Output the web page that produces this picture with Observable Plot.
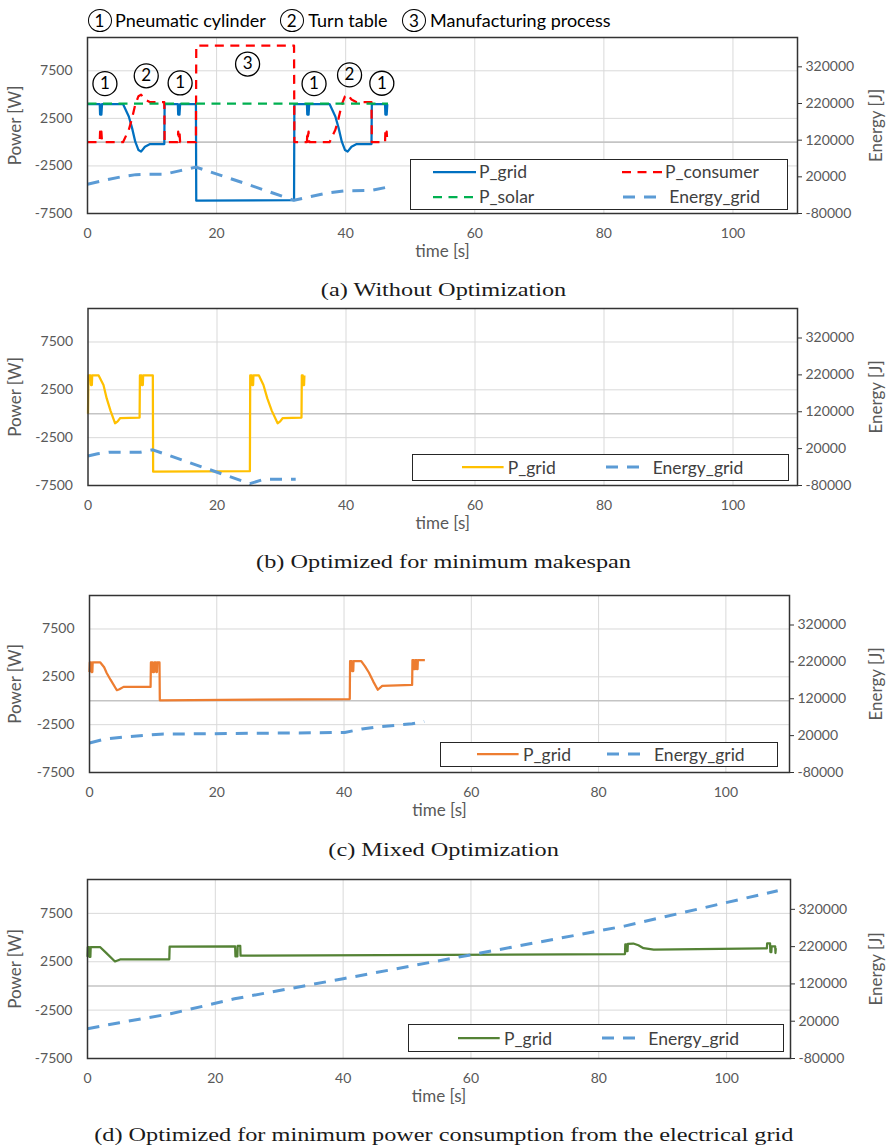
<!DOCTYPE html>
<html><head><meta charset="utf-8">
<script src="https://cdn.jsdelivr.net/npm/d3@7"></script>
<script src="https://cdn.jsdelivr.net/npm/@observablehq/plot@0.6"></script>
<style>
body{margin:0;background:#fff;}
#page{position:relative;width:887px;height:1147px;overflow:hidden;font-family:Lato,sans-serif;background:#fff;}
.pl{position:absolute;left:0;}
.cap{position:absolute;left:0;width:887px;height:26px;line-height:26px;text-align:center;font-family:"Liberation Serif",serif;font-size:19.5px;color:#1a1a1a;white-space:nowrap;}
.cap span{display:inline-block;transform:scaleX(1.245);transform-origin:center;}
.legbox{position:absolute;border:1.5px solid #262626;background:#fff;box-sizing:border-box;}
.legtext{position:absolute;height:24px;display:flex;align-items:center;font-size:17.5px;color:#404040;white-space:nowrap;}
.samp{position:absolute;overflow:visible;}
.circ{position:absolute;width:24px;height:23px;border:1.4px solid #000;border-radius:50%;box-sizing:border-box;display:flex;align-items:center;justify-content:center;font-size:17px;color:#000;}
.htext{position:absolute;height:24px;display:flex;align-items:center;font-size:18px;color:#000;white-space:nowrap;}
</style></head><body><div id="page"></div>
<script>
// ---------- data ----------
const xTicks = [0, 20, 40, 60, 80, 100];
const powerTicks = [-7500, -2500, 2500, 7500];
const energyTicks = [-80000, 20000, 120000, 220000, 320000];
const powerDomain = [-7500, 11000];
const energyDomain = [-80000, 400000];

// (a) Without Optimization
const aGridT = [0, 1.9, 1.95, 2.05, 2.15, 2.25, 5.5, 6.4, 6.9, 7.4, 7.9, 8.3, 8.9, 9.7, 11.9, 11.95, 14.0, 14.05, 14.15, 14.25, 14.35, 16.8, 16.85, 32.0, 32.05, 34.0, 34.05, 34.15, 34.25, 34.35, 37.5, 38.4, 38.9, 39.4, 39.9, 40.3, 40.9, 41.7, 44.0, 44.05, 46.1, 46.15, 46.25, 46.35, 46.45, 46.55];
const aGridP = [4000, 4000, 2900, 3400, 2900, 4000, 4000, 2700, 1500, 50, -830, -1000, -480, -200, -200, 4000, 4000, 2900, 3400, 2900, 4000, 4000, -6150, -6100, 4000, 4000, 2900, 3400, 2900, 4000, 4000, 2700, 1500, 50, -830, -1000, -480, -200, -200, 4000, 4000, 2900, 3400, 2900, 4000, 4000];
const aConsT = [0, 1.9, 1.95, 2.05, 2.15, 2.25, 5.5, 6.4, 6.9, 7.4, 7.9, 8.3, 8.9, 9.7, 11.9, 11.95, 14.0, 14.05, 14.15, 14.25, 14.35, 16.8, 16.85, 32.0, 32.05, 34.0, 34.05, 34.15, 34.25, 34.35, 37.5, 38.4, 38.9, 39.4, 39.9, 40.3, 40.9, 41.7, 44.0, 44.05, 46.1, 46.15, 46.25, 46.35, 46.45, 46.55];
const aConsP = [0, 0, 1100, 600, 1100, 0, 0, 1300, 2500, 3950, 4830, 5000, 4480, 4200, 4200, 0, 0, 1100, 600, 1100, 0, 0, 10150, 10150, 0, 0, 1100, 600, 1100, 0, 0, 1300, 2500, 3950, 4830, 5000, 4480, 4200, 4200, 0, 0, 1100, 600, 1100, 0, 0];
const aSolarT = [0, 46.55];
const aSolarP = [4050, 4050];
const aEnergyT = [0, 2.75, 5.5, 7.5, 9, 11.9, 14.4, 16.8, 24.4, 32.0, 34.8, 37.5, 40, 44, 46.5];
const aEnergyJ = [0, 11000, 21000, 26000, 27000, 27000, 37000, 46500, 2000, -44000, -33000, -23000, -18000, -17000, -8000];
const annT = [2.7, 9.1, 14.35, 24.8, 35.1, 40.6, 45.6];
const annP = [6150, 6970, 6220, 8210, 6150, 7070, 6190];
const annLabel = ["1", "2", "1", "3", "1", "2", "1"];

// (b) Optimized for minimum makespan
const bGridT = [0, 0.05, 0.1, 0.4, 0.45, 0.55, 0.6, 0.65, 1.65, 2.4, 2.9, 3.5, 4.2, 4.6, 5.0, 8.0, 8.05, 8.3, 8.35, 8.45, 8.5, 8.55, 10.05, 10.1, 25.1, 25.15, 25.4, 25.45, 25.55, 25.6, 25.65, 26.5, 27.2, 27.8, 28.5, 29.4, 29.8, 30.2, 33.1, 33.15, 33.3, 33.35, 33.45, 33.5, 33.55];
const bGridP = [0, 3000, 4000, 4000, 3000, 3500, 3000, 4000, 4000, 3000, 1600, 300, -1000, -800, -450, -400, 4000, 4000, 3000, 3500, 3000, 4000, 4000, -6050, -6000, 4000, 4000, 3000, 3500, 3000, 4000, 4000, 3000, 1600, 300, -1000, -800, -450, -400, 4000, 4000, 3000, 3500, 3000, 4000];
const bEnergyT = [0, 1.5, 3.3, 8.1, 10.05, 25.1, 27.3, 32.2];
const bEnergyJ = [0, 6000, 10300, 10000, 16700, -75000, -63000, -63000];

// (c) Mixed Optimization
const cGridT = [0, 0.05, 0.25, 0.3, 0.45, 0.5, 1.7, 2.3, 2.7, 3.3, 4.3, 4.7, 5.35, 9.6, 9.65, 9.9, 9.95, 10.15, 10.2, 10.45, 10.5, 10.6, 10.65, 11.0, 11.05, 40.9, 40.95, 41.2, 41.25, 41.45, 41.5, 42.7, 43.3, 43.9, 44.6, 45.3, 46.0, 50.7, 50.75, 50.95, 51.0, 51.15, 51.2, 51.4, 51.45, 51.55, 51.6, 52.7];
const cGridP = [3000, 4000, 4000, 3000, 3000, 4000, 4000, 3500, 2900, 2200, 1100, 1200, 1450, 1450, 4000, 4000, 3000, 3000, 4000, 4000, 3000, 3000, 4000, 4000, 50, 180, 4150, 4150, 3100, 3100, 4150, 4150, 3600, 2950, 2000, 1150, 1550, 1650, 4250, 4250, 3300, 3300, 4250, 4250, 3300, 3300, 4250, 4250];
const cEnergyT = [0, 2.4, 5.5, 11.1, 40.1, 42.8, 45.3, 50.7, 52.6];
const cEnergyJ = [0, 10500, 16500, 24000, 28500, 38000, 43900, 52000, 58300];

// (d) Optimized for minimum power consumption from the electrical grid
const dGridT = [0, 0.05, 0.25, 0.3, 0.45, 0.5, 2.0, 3.0, 4.3, 5.1, 12.8, 12.85, 23.1, 23.15, 23.45, 23.5, 23.9, 23.95, 84.1, 84.15, 84.3, 84.35, 84.5, 84.55, 85.4, 86.2, 87.0, 88.6, 106.3, 106.35, 106.8, 106.85, 107.0, 107.05, 107.6, 107.65, 107.7];
const dGridP = [3000, 4000, 4000, 3000, 3000, 4000, 4000, 3360, 2530, 2740, 2750, 4050, 4100, 3050, 3050, 4150, 4150, 3120, 3300, 4300, 4300, 3600, 3600, 4350, 4380, 4200, 3900, 3750, 3880, 4400, 4400, 3500, 3500, 4100, 4100, 3400, 3900];
const dEnergyT = [0, 5, 13, 23, 40, 60, 84, 108];
const dEnergyJ = [0, 16000, 40000, 80000, 134000, 198000, 275000, 370000];

const captions = ["(a) Without Optimization", "(b) Optimized for minimum makespan", "(c) Mixed Optimization", "(d) Optimized for minimum power consumption from the electrical grid"];

// ---------- helpers ----------
const rows = (t, v) => d3.zip(t, v).map(([t, v]) => ({t, v}));
const eToP = d3.scaleLinear().domain(energyDomain).range(powerDomain);
const page = document.getElementById("page");

const C = {
  blue: "#0070C0", red: "#FF0000", green: "#00B050", energy: "#5B9BD5",
  yellow: "#FFC000", orange: "#ED7D31", dgreen: "#548235"
};
const dashShort = "9,6.5", dashLong = "12,9";

function panel(cfg) {
  const mt = cfg.marginTop;
  const mb = 56;
  const boxH = cfg.boxBottom - cfg.boxTop;
  const marks = [
    Plot.gridX(xTicks.slice(1), {stroke: "#d9d9d9", strokeOpacity: 1, strokeWidth: 1}),
    Plot.gridY([7500, 2500, -2500], {stroke: "#d9d9d9", strokeOpacity: 1, strokeWidth: 1}),
    Plot.ruleY([0], {stroke: "#c4c4c4", strokeWidth: 1.6}),
  ];
  for (const s of cfg.series) {
    const data = rows(s.t, s.v);
    marks.push(Plot.line(data, {
      x: "t", y: s.energy ? (d => eToP(d.v)) : "v",
      stroke: s.color, strokeWidth: s.width, strokeDasharray: s.dash || null,
      strokeLinejoin: "round", strokeLinecap: "butt"
    }));
  }
  if (cfg.ann) {
    marks.push(Plot.dot(cfg.ann, {x: "t", y: "p", r: 12, stroke: "#000", strokeWidth: 1.3, fill: "none"}));
    marks.push(Plot.text(cfg.ann, {x: "t", y: "p", text: "label", fontSize: 17, fill: "#000", lineAnchor: "middle"}));
  }
  marks.push(
    Plot.frame({stroke: "#333", strokeWidth: 1.5}),
    Plot.axisX({ticks: xTicks, tickSize: 0, tickPadding: 15, fontSize: 14, fill: "#595959", label: null, tickFormat: d => String(d)}),
    Plot.axisY({anchor: "left", ticks: powerTicks, tickSize: 0, tickPadding: 15, fontSize: 14, fill: "#595959", label: null, tickFormat: d => String(d)}),
    Plot.axisY({anchor: "right", ticks: energyTicks.map(eToP), tickSize: 4, tickPadding: 4, fontSize: 14, fill: "#595959", stroke: "#333", label: null,
      tickFormat: v => String(Math.round(eToP.invert(v) / 1000) * 1000)}),
    Plot.text(["Power [W]"], {text: d => d, frameAnchor: "left", dx: 15 - cfg.left, rotate: -90, textAnchor: "middle", fontSize: 17, fill: "#595959"}),
    Plot.text(["Energy [J]"], {text: d => d, frameAnchor: "right", dx: 876 - cfg.right, rotate: -90, textAnchor: "middle", fontSize: 17, fill: "#595959"}),
    Plot.text(["time [s]"], {text: d => d, frameAnchor: "bottom", dy: 38, textAnchor: "middle", lineAnchor: "middle", fontSize: 17, fill: "#595959"})
  );
  const chart = Plot.plot({
    width: 887,
    height: mt + boxH + mb,
    marginTop: mt, marginBottom: mb, marginLeft: cfg.left, marginRight: 887 - cfg.right,
    x: {domain: [0, 110]},
    y: {domain: powerDomain},
    style: {fontFamily: "Lato", background: "transparent", overflow: "visible"},
    marks
  });
  const wrap = document.createElement("div");
  wrap.className = "pl";
  wrap.style.top = (cfg.boxTop - mt) + "px";
  wrap.appendChild(chart);
  page.appendChild(wrap);

  // legend
  const lb = cfg.legend;
  const box = document.createElement("div");
  box.className = "legbox";
  Object.assign(box.style, {left: lb.x1 + "px", top: lb.y1 + "px", width: (lb.x2 - lb.x1) + "px", height: (lb.y2 - lb.y1) + "px"});
  page.appendChild(box);
  for (const it of lb.items) {
    const w = it.x2 - it.x1;
    const svg = d3.create("svg").attr("class", "samp").attr("width", w).attr("height", 8)
      .style("left", it.x1 + "px").style("top", (it.cy - 4) + "px");
    svg.append("line").attr("x1", 0).attr("x2", w).attr("y1", 4).attr("y2", 4)
      .attr("stroke", it.color).attr("stroke-width", it.width).attr("stroke-dasharray", it.dash || null);
    page.appendChild(svg.node());
    const tx = document.createElement("div");
    tx.className = "legtext";
    tx.textContent = it.label;
    tx.style.left = it.tx + "px";
    tx.style.top = (it.cy - 12) + "px";
    page.appendChild(tx);
  }
  // caption
  const cap = document.createElement("div");
  cap.className = "cap";
  cap.style.top = (cfg.capY - 13) + "px";
  const sp = document.createElement("span");
  sp.textContent = cfg.caption;
  cap.appendChild(sp);
  page.appendChild(cap);
}

// ---------- panels ----------
panel({
  boxTop: 37, boxBottom: 213, left: 87, right: 797, marginTop: 37, capY: 290, caption: captions[0],
  series: [
    {t: aGridT, v: aGridP, color: C.blue, width: 2.25},
    {t: aConsT, v: aConsP, color: C.red, width: 2.25, dash: dashShort},
    {t: aSolarT, v: aSolarP, color: C.green, width: 2.25, dash: dashShort},
    {t: aEnergyT, v: aEnergyJ, color: C.energy, width: 3, dash: dashLong, energy: true}
  ],
  ann: d3.zip(annT, annP, annLabel).map(([t, p, label]) => ({t, p, label})),
  legend: {x1: 410, x2: 788, y1: 159, y2: 209.5, items: [
    {x1: 433, x2: 476, tx: 479, cy: 171.7, color: C.blue, width: 2.25, label: "P_grid"},
    {x1: 621.7, x2: 663.3, tx: 665, cy: 171.7, color: C.red, width: 2.25, dash: dashShort, label: "P_consumer"},
    {x1: 433, x2: 476, tx: 479, cy: 196.7, color: C.green, width: 2.25, dash: dashShort, label: "P_solar"},
    {x1: 622.7, x2: 656.7, tx: 669.3, cy: 196.7, color: C.energy, width: 3, dash: dashLong, label: "Energy_grid"}
  ]}
});
panel({
  boxTop: 308, boxBottom: 485, left: 87.5, right: 797, marginTop: 10, capY: 562, caption: captions[1],
  series: [
    {t: bGridT, v: bGridP, color: C.yellow, width: 2.25},
    {t: bEnergyT, v: bEnergyJ, color: C.energy, width: 3, dash: dashLong, energy: true}
  ],
  legend: {x1: 411.7, x2: 789.3, y1: 454, y2: 481, items: [
    {x1: 461.7, x2: 503.3, tx: 507.7, cy: 467.3, color: C.yellow, width: 2.25, label: "P_grid"},
    {x1: 606, x2: 640, tx: 652.7, cy: 467.3, color: C.energy, width: 3, dash: dashLong, label: "Energy_grid"}
  ]}
});
panel({
  boxTop: 595, boxBottom: 772, left: 89, right: 789, marginTop: 10, capY: 850, caption: captions[2],
  series: [
    {t: cGridT, v: cGridP, color: C.orange, width: 2.25},
    {t: cEnergyT, v: cEnergyJ, color: C.energy, width: 3, dash: dashLong, energy: true}
  ],
  legend: {x1: 440, x2: 777.7, y1: 741.7, y2: 767, items: [
    {x1: 476.7, x2: 518.3, tx: 523, cy: 754.2, color: C.orange, width: 2.25, label: "P_grid"},
    {x1: 607, x2: 641.7, tx: 654, cy: 754.2, color: C.energy, width: 3, dash: dashLong, label: "Energy_grid"}
  ]}
});
panel({
  boxTop: 879, boxBottom: 1058, left: 87, right: 790, marginTop: 10, capY: 1135, caption: captions[3],
  series: [
    {t: dGridT, v: dGridP, color: C.dgreen, width: 2.25},
    {t: dEnergyT, v: dEnergyJ, color: C.energy, width: 3, dash: dashLong, energy: true}
  ],
  legend: {x1: 408.3, x2: 784, y1: 1024.3, y2: 1052.5, items: [
    {x1: 458.3, x2: 500, tx: 504, cy: 1038.3, color: C.dgreen, width: 2.25, label: "P_grid"},
    {x1: 601.7, x2: 636.7, tx: 648.3, cy: 1038.3, color: C.energy, width: 3, dash: dashLong, label: "Energy_grid"}
  ]}
});

// ---------- header (panel a) ----------
const headerItems = [
  {cx: 99.5, num: "1", tx: 115, label: "Pneumatic cylinder"},
  {cx: 291.7, num: "2", tx: 308.3, label: "Turn table"},
  {cx: 414, num: "3", tx: 430, label: "Manufacturing process"}
];
for (const h of headerItems) {
  const c = document.createElement("div");
  c.className = "circ";
  c.textContent = h.num;
  c.style.left = (h.cx - 12) + "px";
  c.style.top = (20 - 11.5) + "px";
  page.appendChild(c);
  const t = document.createElement("div");
  t.className = "htext";
  t.textContent = h.label;
  t.style.left = h.tx + "px";
  t.style.top = (20 - 12) + "px";
  page.appendChild(t);
}
</script></body></html>
